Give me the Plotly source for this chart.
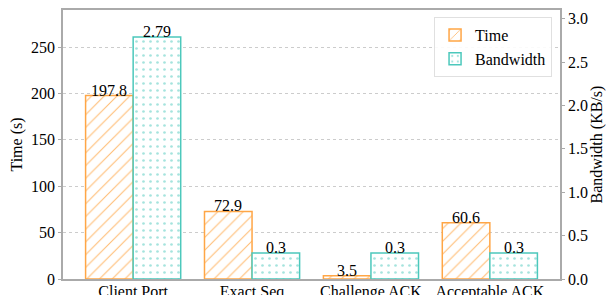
import plotly.graph_objects as go

categories = ["Client Port", "Exact Seq", "Challenge ACK", "Acceptable ACK"]
time_s = [197.8, 72.9, 3.5, 60.6]
bandwidth = [2.79, 0.3, 0.3, 0.3]
time_labels = ["197.8", "72.9", "3.5", "60.6"]
bw_labels = ["2.79", "0.3", "0.3", "0.3"]

ORANGE = "#FFA646"
TEAL = "#4CC8BC"
FONT = "Liberation Serif"

fig = go.Figure()
fig.add_trace(go.Bar(
    x=categories, y=time_s, name="Time", offsetgroup=1, yaxis="y",
    marker=dict(color="white", line=dict(color=ORANGE, width=1.5),
                pattern=dict(shape="/", fgcolor=ORANGE, fgopacity=0.75, bgcolor="white",
                             size=9, solidity=0.12)),
))
fig.add_trace(go.Bar(
    x=categories, y=bandwidth, name="Bandwidth", offsetgroup=2, yaxis="y2",
    marker=dict(color="white", line=dict(color=TEAL, width=1.5),
                pattern=dict(shape=".", fgcolor=TEAL, bgcolor="white", size=7, solidity=0.12)),
))

annotations = []
for i, (v, t) in enumerate(zip(time_s, time_labels)):
    annotations.append(dict(x=i - 0.2, y=v, xref="x", yref="y", text=t, showarrow=False,
                            yanchor="bottom", yshift=-5, font=dict(size=16, family=FONT, color="black")))
for i, (v, t) in enumerate(zip(bandwidth, bw_labels)):
    annotations.append(dict(x=i + 0.2, y=v, xref="x", yref="y2", text=t, showarrow=False,
                            yanchor="bottom", yshift=-5, font=dict(size=16, family=FONT, color="black")))

fig.update_layout(
    width=607, height=287,
    margin=dict(l=55, r=55, t=2, b=16, autoexpand=False),
    paper_bgcolor="white", plot_bgcolor="white",
    font=dict(family=FONT, size=16, color="black"),
    barmode="group", bargap=0.2, bargroupgap=0,
    annotations=annotations,
    xaxis=dict(range=[-0.59, 3.59], showline=True, linecolor="#AAAAAA", linewidth=1.5,
               mirror=True, ticks="", tickfont=dict(size=16, family=FONT), automargin=False,
               ticklabelstandoff=-3),
    yaxis=dict(title=dict(text="Time (s)", font=dict(size=16, family=FONT), standoff=8), range=[0, 290],
               tickvals=[0, 50, 100, 150, 200, 250], showgrid=True, gridcolor="#CCCCCC",
               griddash="dot", gridwidth=1, showline=True, linecolor="#AAAAAA", linewidth=1.5,
               ticks="outside", ticklen=3, tickcolor="#AAAAAA", zeroline=False,
               tickfont=dict(size=16, family=FONT), automargin=False),
    yaxis2=dict(title=dict(text="Bandwidth (KB/s)", font=dict(size=16, family=FONT), standoff=4), range=[0, 3.1],
                tickvals=[0, 0.5, 1.0, 1.5, 2.0, 2.5, 3.0], tickformat=".1f", overlaying="y", side="right",
                showgrid=False, showline=True, linecolor="#AAAAAA", linewidth=1.5, ticks="outside",
                ticklen=3, tickcolor="#AAAAAA", zeroline=False, tickfont=dict(size=16, family=FONT),
                automargin=False),
    legend=dict(x=0.984, y=0.974, xanchor="right", yanchor="top", bgcolor="rgba(255,255,255,0.9)",
                bordercolor="#E0E0E0", borderwidth=1, font=dict(size=16, family=FONT)),
    showlegend=True,
)

fig.write_html("out.html")
